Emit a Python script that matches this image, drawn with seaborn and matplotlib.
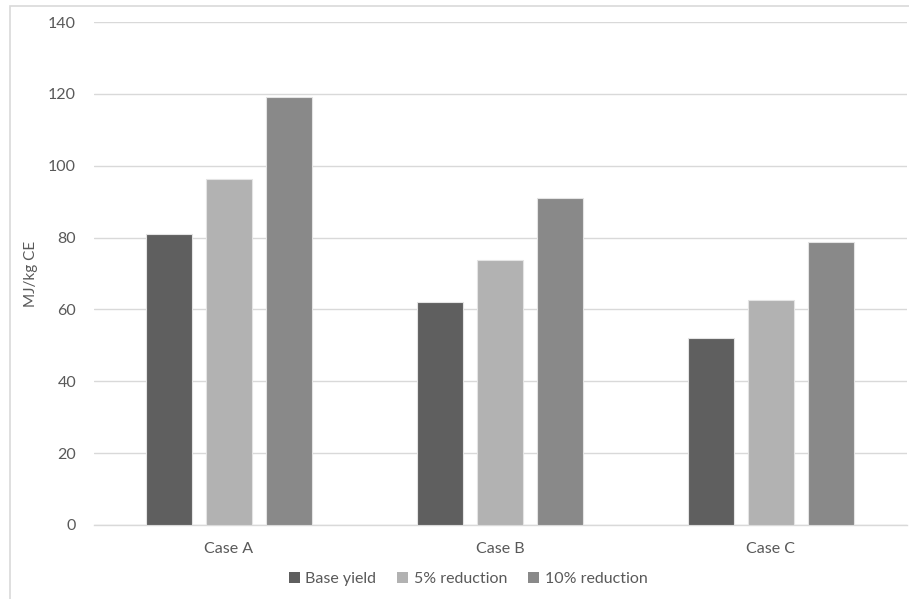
import matplotlib
matplotlib.use("Agg")
import matplotlib.pyplot as plt
from matplotlib.patches import Rectangle
import seaborn as sns
import pandas as pd

cases = ["Case A", "Case B", "Case C"]
series = ["Base yield", "5% reduction", "10% reduction"]
base_yield = [81.0, 62.1, 52.0]
reduction_5 = [96.4, 73.8, 62.7]
reduction_10 = [119.1, 91.1, 78.9]
colors = ["#5f5f5f", "#b2b2b2", "#898989"]
y_ticks = [0, 20, 40, 60, 80, 100, 120, 140]

df = pd.DataFrame({
    "case": cases * 3,
    "scenario": [s for s in series for _ in cases],
    "value": base_yield + reduction_5 + reduction_10,
})

sns.set_theme(style="white")
plt.rcParams["font.family"] = ["Lato", "DejaVu Sans"]
text_color = "#595959"
grid_color = "#d9d9d9"

fig = plt.figure(figsize=(9.09, 5.99), dpi=100)
W, H = 909, 599
ax = fig.add_axes([93.5 / W, 74 / H, 813 / W, 503 / H])

sns.barplot(data=df, x="case", y="value", hue="scenario", order=cases,
            hue_order=series, palette=colors, width=0.664, gap=0.22,
            edgecolor="#e4e4e4", linewidth=0.8, saturation=1, ax=ax,
            legend=False, zorder=3)

ax.set_xlim(-0.5, 2.5)
ax.set_ylim(0, 140)
ax.set_yticks(y_ticks)
ax.yaxis.grid(True, color=grid_color, linewidth=1.0, zorder=0)
ax.set_axisbelow(True)
for side in ["top", "right", "left"]:
    ax.spines[side].set_visible(False)
ax.spines["bottom"].set_color(grid_color)
ax.spines["bottom"].set_linewidth(1.0)
ax.tick_params(axis="both", length=0, labelsize=11.5, colors=text_color)
ax.tick_params(axis="y", pad=12.5)
ax.tick_params(axis="x", pad=12)
ax.set_xlabel("")
ax.set_ylabel("MJ/kg CE", fontsize=11, color=text_color)
ax.yaxis.set_label_coords((38 - 93.5) / 813, 0.5)

# Legend along the bottom
handles = [Rectangle((0, 0), 1, 1, facecolor=c, edgecolor="none") for c in colors]
fig.legend(handles, series, loc="center", bbox_to_anchor=(468 / W, 1 - 579 / H),
           ncol=3, frameon=False, fontsize=11.5, labelcolor=text_color,
           handlelength=0.7, handleheight=0.7, handletextpad=0.35,
           columnspacing=1.3)

# Chart area border
fig.patches.append(Rectangle((10 / W, -0.1), 1.0, 1 - 6 / H + 0.1,
                             transform=fig.transFigure, fill=False,
                             edgecolor=grid_color, linewidth=1.2))

fig.savefig("out.png", dpi=100)
